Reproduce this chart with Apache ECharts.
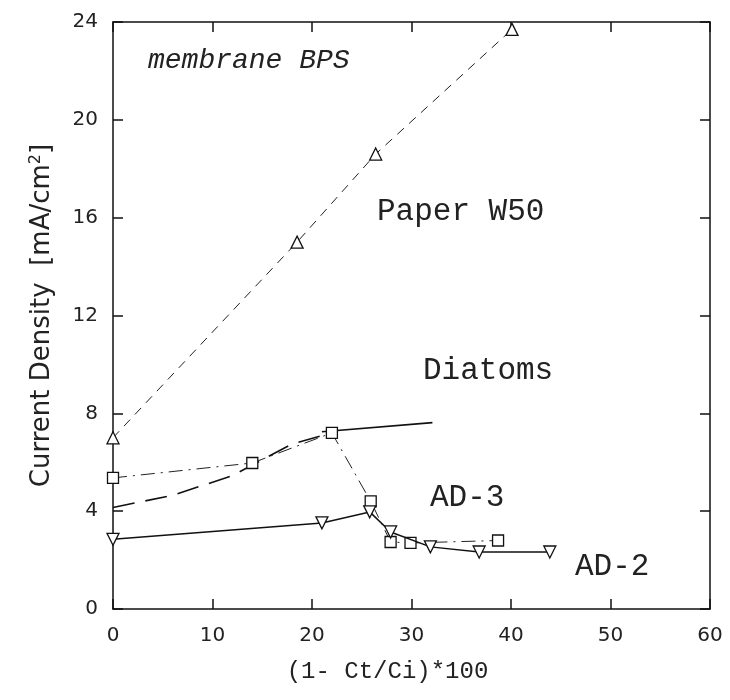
<!DOCTYPE html>
<html>
<head>
<meta charset="utf-8">
<script src="https://cdn.jsdelivr.net/npm/echarts@6/dist/echarts.min.js"></script>
<style>
  html, body { margin: 0; padding: 0; background: #fff; }
  #main { width: 730px; height: 700px; }
</style>
</head>
<body>
<div id="main"></div>
<script>
// axis ticks
var xTicks = [0, 10, 20, 30, 40, 50, 60];
var yTicks = [0, 4, 8, 12, 16, 20, 24];

// Paper W50 (open triangles, dashed)
var w50X = [0, 18.5, 26.4, 40.1];
var w50Y = [7.0, 15.0, 18.6, 23.7];

// Diatoms line (long dash, then solid)
var diaDashX = [0, 6, 12, 18, 22];
var diaDashY = [4.15, 4.65, 5.45, 6.75, 7.2];
var diaSolidX = [21, 32.1];
var diaSolidY = [7.25, 7.62];

// AD-3 (open squares, dash-dot)
var ad3X = [0, 14, 22, 25.9, 27.9, 29.9, 38.7];
var ad3Y = [5.36, 5.97, 7.2, 4.4, 2.74, 2.7, 2.8];

// AD-2 (open down triangles, solid)
var ad2X = [0, 21, 25.8, 27.9, 31.9, 36.8, 43.9];
var ad2Y = [2.85, 3.52, 3.97, 3.15, 2.54, 2.33, 2.33];

function pairs(xs, ys) {
  return xs.map(function (x, i) {
    return [x, ys[i]];
  });
}

var myChart = echarts.init(document.getElementById('main'));

var hollow = { color: '#fff', borderColor: '#111', borderWidth: 1.3 };
var labelFont = 'DejaVu Sans';
var typeFont = 'Liberation Mono';

// shared look for the four frame axes
function frameAxis(extra) {
  var base = {
    type: 'value',
    axisLine: { show: true, onZero: false, lineStyle: { color: '#111', width: 1.5 } },
    axisTick: { show: true, inside: true, length: 10, lineStyle: { color: '#111', width: 1.5 } },
    splitLine: { show: false },
    axisLabel: { show: false }
  };
  return Object.assign(base, extra);
}

var option = {
  animation: false,
  backgroundColor: '#fff',
  grid: { left: 113, right: 20, top: 22, bottom: 91, containLabel: false },
  xAxis: [
    frameAxis({
      position: 'bottom',
      min: xTicks[0],
      max: xTicks[xTicks.length - 1],
      interval: 10,
      axisLabel: { show: true, margin: 17, color: '#222', fontSize: 20, fontFamily: labelFont },
      name: '(1- Ct/Ci)*100',
      nameLocation: 'middle',
      nameGap: 51,
      nameTextStyle: { color: '#222', fontSize: 24, fontFamily: typeFont, padding: [0, 48, 0, 0] }
    }),
    frameAxis({
      position: 'top',
      min: xTicks[0],
      max: xTicks[xTicks.length - 1],
      interval: 10
    })
  ],
  yAxis: [
    frameAxis({
      position: 'left',
      min: yTicks[0],
      max: yTicks[yTicks.length - 1],
      interval: 4,
      axisLabel: { show: true, margin: 15, color: '#222', fontSize: 20, fontFamily: labelFont },
      name: 'Current Density  [mA/cm{sup|2}]',
      nameLocation: 'middle',
      nameRotate: 90,
      nameGap: 56,
      nameTextStyle: {
        color: '#222',
        fontSize: 26,
        fontFamily: labelFont,
        rich: {
          sup: { fontSize: 16, fontFamily: labelFont, color: '#222', verticalAlign: 'bottom', padding: [0, 0, 13, 0] }
        }
      }
    }),
    frameAxis({
      position: 'right',
      min: yTicks[0],
      max: yTicks[yTicks.length - 1],
      interval: 4
    })
  ],
  series: [
    {
      name: 'Paper W50',
      type: 'line',
      data: pairs(w50X, w50Y),
      symbol: 'triangle',
      symbolSize: 12,
      itemStyle: hollow,
      lineStyle: { color: '#222', width: 1, type: [9, 7] },
      z: 3
    },
    {
      name: 'Diatoms dash',
      type: 'line',
      data: pairs(diaDashX, diaDashY),
      symbol: 'none',
      lineStyle: { color: '#111', width: 1.6, type: [22, 11] },
      z: 2
    },
    {
      name: 'Diatoms',
      type: 'line',
      data: pairs(diaSolidX, diaSolidY),
      symbol: 'none',
      lineStyle: { color: '#111', width: 1.6 },
      z: 2
    },
    {
      name: 'AD-3',
      type: 'line',
      data: pairs(ad3X, ad3Y),
      symbol: 'rect',
      symbolSize: 11,
      itemStyle: hollow,
      lineStyle: { color: '#222', width: 1, type: [14, 6, 2, 6] },
      z: 3
    },
    {
      name: 'AD-2',
      type: 'line',
      data: pairs(ad2X, ad2Y),
      symbol: 'triangle',
      symbolRotate: 180,
      symbolSize: 12,
      itemStyle: hollow,
      lineStyle: { color: '#111', width: 1.5 },
      z: 4
    }
  ],
  // in-plot captions
  graphic: [
    { type: 'text', left: 148, top: 47, style: { text: 'membrane BPS', fontSize: 28, fontStyle: 'italic', fontFamily: typeFont, fill: '#222' } },
    { type: 'text', left: 377, top: 196, style: { text: 'Paper W50', fontSize: 31, fontFamily: typeFont, fill: '#222' } },
    { type: 'text', left: 423, top: 355, style: { text: 'Diatoms', fontSize: 31, fontFamily: typeFont, fill: '#222' } },
    { type: 'text', left: 430, top: 482, style: { text: 'AD-3', fontSize: 31, fontFamily: typeFont, fill: '#222' } },
    { type: 'text', left: 575, top: 551, style: { text: 'AD-2', fontSize: 31, fontFamily: typeFont, fill: '#222' } }
  ]
};

myChart.setOption(option);
</script>
</body>
</html>
